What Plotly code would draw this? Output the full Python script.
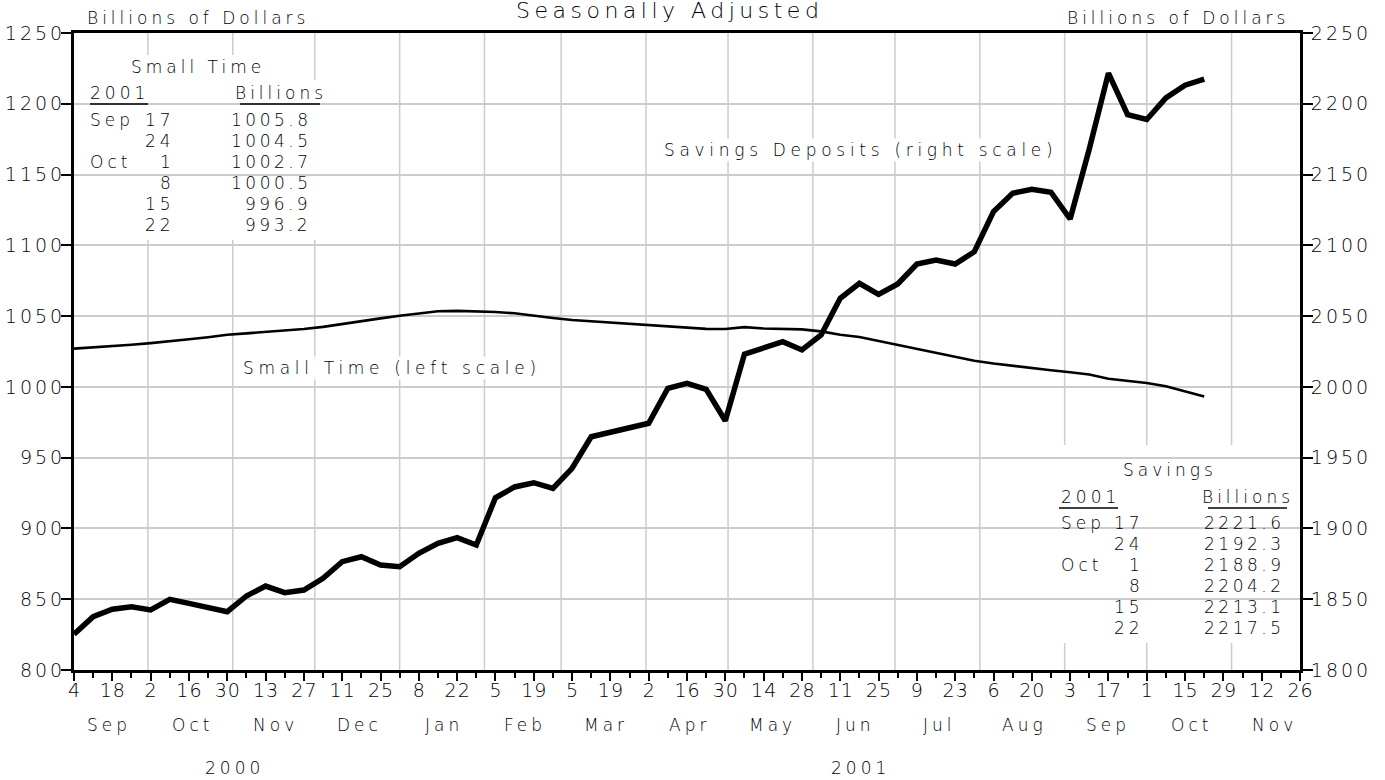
import plotly.graph_objects as go
import pandas as pd

# ---------------- data ----------------
week_dates = pd.date_range("2000-09-04", periods=60, freq="7D")

small_time = [
    1027.0, 1027.8, 1028.8, 1029.8, 1030.9, 1032.0, 1033.6, 1035.1, 1036.8, 1037.8,
    1038.8, 1039.8, 1040.9, 1042.4, 1044.5, 1046.5, 1048.4, 1050.2, 1051.9, 1053.4,
    1053.7, 1053.5, 1052.9, 1052.0, 1050.6, 1048.7, 1047.2, 1046.3, 1045.4, 1044.6,
    1043.2, 1042.3, 1041.5, 1041.0, 1040.9, 1042.2, 1041.3, 1041.0, 1040.6, 1039.2,
    1036.8, 1035.2, 1032.4, 1030.0, 1027.2, 1024.0, 1021.2, 1018.5, 1016.5, 1014.8,
    1013.2, 1011.8, 1010.4, 1008.8, 1005.8, 1004.5, 1002.7, 1000.5, 996.9, 993.2,
]

savings = [
    1825.3, 1837.7, 1842.9, 1844.7, 1842.4, 1849.9, 1847.1, 1844.2, 1841.2, 1852.3,
    1859.3, 1854.6, 1856.5, 1864.8, 1876.5, 1880.0, 1874.2, 1873.0, 1882.4, 1889.5,
    1893.5, 1888.3, 1921.7, 1929.3, 1932.3, 1928.3, 1942.5, 1964.8, 1967.8, 1970.9,
    1974.3, 1999.0, 2002.5, 1998.3, 1976.1, 2023.2, 2027.4, 2031.9, 2026.1, 2036.7,
    2062.6, 2073.2, 2065.4, 2072.7, 2086.8, 2089.6, 2086.8, 2095.5, 2123.8, 2136.8,
    2139.6, 2137.5, 2118.6, 2168.0, 2221.6, 2192.3, 2188.9, 2204.2, 2213.1, 2217.5,
]

tick_dates = pd.date_range("2000-09-04", "2001-11-26", freq="14D")
month_starts = pd.date_range("2000-09-01", "2001-12-01", freq="MS")
left_ticks = list(range(800, 1251, 50))
right_ticks = list(range(1800, 2251, 50))

table_months = ["Sep", "", "Oct", "", "", ""]
table_days = ["17", "24", "1", "8", "15", "22"]
small_table_vals = small_time[-6:]
savings_table_vals = savings[-6:]

x_start = pd.Timestamp("2000-09-04")
x_end = pd.Timestamp("2001-11-26")

# ---------------- geometry helpers ----------------
L, R, T, B = 74, 85, 33, 110
W, H = 1385, 780
PW, PH = W - L - R, H - T - B


def px(x):
    return (x - L) / PW


def py(y):
    return (H - B - y) / PH


TXT = "DejaVu Sans"
TXTC = "#000000"


def sp(s, ls=4):
    s = str(s)
    if len(s) < 2:
        return s
    return f'<span style="letter-spacing:{ls}px">{s[:-1]}</span>{s[-1]}'


fig = go.Figure()
fig.add_trace(go.Scatter(x=week_dates, y=small_time, mode="lines",
                         line=dict(color="black", width=2.6), yaxis="y",
                         showlegend=False, hoverinfo="skip"))
fig.add_trace(go.Scatter(x=week_dates, y=savings, mode="lines",
                         line=dict(color="black", width=5.5), yaxis="y2",
                         showlegend=False, hoverinfo="skip"))

tickfont = dict(family=TXT, size=19, color=TXTC, weight=200)

fig.update_layout(
    width=W, height=H,
    margin=dict(l=L, r=R, t=T, b=B, pad=0, autoexpand=False),
    paper_bgcolor="white", plot_bgcolor="white",
    showlegend=False,
    xaxis=dict(
        type="date", range=[x_start, x_end], automargin=False,
        tickvals=list(tick_dates),
        ticktext=[sp(d.day, 1) for d in tick_dates],
        ticks="outside", ticklen=8, tickwidth=1.5, tickcolor="black",
        ticklabelstandoff=-7,
        showline=True, linewidth=3, linecolor="black", mirror=True,
        showgrid=False, zeroline=False, tickfont=tickfont,
        minor=dict(dtick=7 * 86400000, tick0="2000-09-04", ticks="outside",
                   ticklen=5, tickwidth=1.5, tickcolor="black", showgrid=False),
    ),
    yaxis=dict(
        range=[800, 1250], tickvals=left_ticks, automargin=False,
        ticktext=[sp(v, 3) for v in left_ticks],
        ticks="outside", ticklen=10, tickwidth=1.5, tickcolor="black",
        ticklabelstandoff=-5,
        showline=True, linewidth=3, linecolor="black",
        showgrid=True, gridcolor="#cccccc", gridwidth=1.5, zeroline=False,
        tickfont=tickfont,
    ),
    yaxis2=dict(
        range=[1800, 2250], tickvals=right_ticks, automargin=False,
        ticktext=[sp(v, 3) for v in right_ticks],
        overlaying="y", side="right",
        ticks="outside", ticklen=10, tickwidth=1.5, tickcolor="black",
        ticklabelstandoff=-6,
        showline=True, linewidth=3, linecolor="black",
        showgrid=False, zeroline=False, tickfont=tickfont,
    ),
)

shapes = []
# month gridlines
for m in month_starts:
    if x_start < m < x_end:
        shapes.append(dict(type="line", xref="x", yref="paper", x0=m, x1=m, y0=0, y1=1,
                           line=dict(color="#cccccc", width=1.5), layer="below"))
# white boxes behind tables
shapes.append(dict(type="rect", xref="paper", yref="paper", x0=px(120), x1=px(275),
                   y0=py(80), y1=py(55), fillcolor="white", line=dict(width=0), layer="between"))
shapes.append(dict(type="rect", xref="paper", yref="paper", x0=px(74), x1=px(322),
                   y0=py(240), y1=py(80), fillcolor="white", line=dict(width=0), layer="between"))
shapes.append(dict(type="rect", xref="paper", yref="paper", x0=px(1043), x1=px(1300),
                   y0=py(643), y1=py(445), fillcolor="white", line=dict(width=0), layer="between"))
# header underlines
for (a, b, yy) in [(90, 148, 104), (240, 320, 104), (1059, 1118, 508), (1208, 1287, 508)]:
    shapes.append(dict(type="line", xref="paper", yref="paper", x0=px(a), x1=px(b),
                       y0=py(yy), y1=py(yy), line=dict(color="black", width=1.5)))

annotations = []


def ann(text, x, y, size=17, xanchor="center", yanchor="middle", bg=None, ls=4):
    d = dict(text=sp(text, ls), x=px(x), y=py(y), xref="paper", yref="paper",
             showarrow=False, xanchor=xanchor, yanchor=yanchor,
             font=dict(family=TXT, size=size, color=TXTC, weight=200))
    if bg:
        d["bgcolor"] = bg
    annotations.append(d)


ann("Seasonally Adjusted", 667, 10, size=22, ls=4.5)
ann("Billions of Dollars", 196, 18)
ann("Billions of Dollars", 1176, 18)

ann("Small Time", 196, 67)
ann("2001", 117, 93)
ann("Billions", 279, 93)
for i in range(6):
    yy = 120 + 21 * i
    if table_months[i]:
        ann(table_months[i], 88, yy, xanchor="left")
    ann(table_days[i], 173, yy, xanchor="right")
    ann(f"{small_table_vals[i]:.1f}", 310, yy, xanchor="right", ls=3.5)

ann("Savings", 1168, 470)
ann("2001", 1088, 497)
ann("Billions", 1246, 497)
for i in range(6):
    yy = 523 + 21 * i
    if table_months[i]:
        ann(table_months[i], 1059, yy, xanchor="left")
    ann(table_days[i], 1142, yy, xanchor="right")
    ann(f"{savings_table_vals[i]:.1f}", 1283, yy, xanchor="right", ls=3.5)

ann("Savings Deposits (right scale)", 858, 150, bg="white", ls=4.7)
ann("Small Time (left scale)", 389, 368, bg="white", ls=4.7)

# month labels
for m in month_starts:
    nxt = m + pd.offsets.MonthBegin(1)
    mid = m + (nxt - m) / 2
    if x_start - pd.Timedelta(days=5) < mid < x_end:
        annotations.append(dict(text=sp(m.strftime("%b")), x=mid, y=py(725), xref="x", yref="paper",
                                showarrow=False, xanchor="center", yanchor="middle",
                                font=dict(family=TXT, size=17, color=TXTC, weight=200)))
ann("2000", 232, 768)
ann("2001", 858, 768)

fig.update_layout(shapes=shapes, annotations=annotations)
fig.write_html("out.html", config={"displayModeBar": False},
               post_script="document.body.style.margin='0px';")
